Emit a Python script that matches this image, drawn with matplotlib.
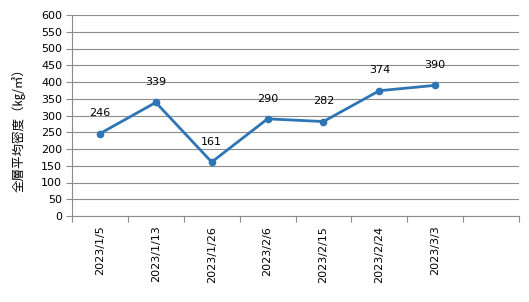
import matplotlib
matplotlib.use("Agg")
import matplotlib.pyplot as plt
from matplotlib.ticker import MultipleLocator, FixedLocator

plt.rcParams['font.family'] = ['DejaVu Sans', 'Noto Sans CJK JP']

dates = ["2023/1/5", "2023/1/13", "2023/1/26", "2023/2/6", "2023/2/15", "2023/2/24", "2023/3/3"]
density = [246, 339, 161, 290, 282, 374, 390]
ylabel = "全層平均密度（㎏/㎥）"

fig = plt.figure(figsize=(5.29, 3.02), dpi=100)
ax = fig.add_axes([72/529, 1-216/302, (519-72)/529, (216-15)/302])

n_slots = 8
xs = [i + 0.5 for i in range(len(dates))]
ax.plot(xs, density, color="#2E75B6", lw=2.0, marker="o", ms=4.5, zorder=3)
for x, v in zip(xs, density):
    ax.annotate(str(v), (x, v), xytext=(0, 11), textcoords="offset points",
                ha="center", va="bottom", fontsize=8, color="black")

ax.set_xlim(0, n_slots)
ax.set_ylim(0, 600)
ax.yaxis.set_major_locator(MultipleLocator(50))
ax.grid(axis="y", color="#8C8C8C", lw=0.8)
ax.set_axisbelow(True)

ax.xaxis.set_major_locator(FixedLocator(range(n_slots + 1)))
ax.xaxis.set_minor_locator(FixedLocator(xs))
ax.set_xticklabels([])
ax.set_xticklabels(dates, minor=True, rotation=90, fontsize=8)
ax.tick_params(axis="x", which="major", length=4, color="#8C8C8C", direction="out")
ax.tick_params(axis="x", which="minor", length=0, pad=7)
ax.tick_params(axis="y", length=4, color="#8C8C8C", labelsize=8, pad=3)

for s in ["top", "right"]:
    ax.spines[s].set_visible(False)
for s in ["left", "bottom"]:
    ax.spines[s].set_color("#8C8C8C")
    ax.spines[s].set_linewidth(0.8)

ax.set_ylabel(ylabel, fontsize=9, family=['Noto Sans CJK JP', 'DejaVu Sans'])
ax.yaxis.set_label_coords(-0.105, 0.44)

fig.savefig("out.png", dpi=100)
